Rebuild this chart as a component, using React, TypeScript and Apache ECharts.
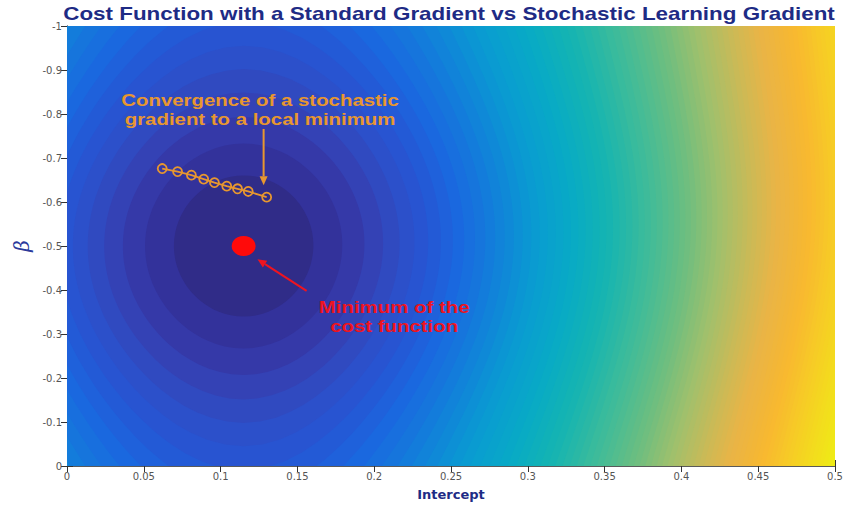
import React, { useEffect, useRef } from "react";
import * as echarts from "echarts";

const TITLE = "Cost Function with a Standard Gradient vs Stochastic Learning Gradient";
const X_NAME = "Intercept";
const Y_NAME = "β";

const X_MIN = 0;
const X_MAX = 0.5;
const X_STEP = 0.05;
const Y_MIN = -1;
const Y_MAX = 0;
const Y_STEP = 0.1;

// Location of the cost minimum (intercept, beta)
const MINIMUM = [0.115, -0.5];

// Stochastic gradient iterates
const SGD_X = [0.062, 0.072, 0.081, 0.089, 0.096, 0.104, 0.111, 0.118, 0.13];
const SGD_Y = [-0.676, -0.669, -0.661, -0.652, -0.644, -0.636, -0.63, -0.624, -0.611];

// Shape of the cost surface around the minimum
const COST_SCALE_X = 0.385; // intercept offset at which the quadratic term reaches 1
const COST_BETA_HALF = 0.5; // beta offset used in the skew term
const COST_BETA_CURV = 0.567; // curvature of the beta term at the minimum
const COST_BETA_DAMP = 1.97; // flattening of the beta term away from the minimum
const COST_SKEW = 0.06;

// Filled contour levels
const LEVEL_STEP = 0.0139;
const LEVEL_COUNT = 84;

// Colour ramp: cost value -> colour
const RAMP_COST = [0, 0.014, 0.028, 0.042, 0.056, 0.07, 0.09, 0.125, 0.175, 0.23, 0.3, 0.37, 0.45, 0.55, 0.64, 0.72, 0.8, 0.9, 1.0, 1.15];
const RAMP_COLOR = [
  "#302c88", "#33329b", "#3539a8", "#3442b5", "#304ac0", "#2c50ca", "#2656d4",
  "#1a68df", "#1280da", "#0a9ad2", "#08aac6", "#14b4b2", "#3abb9c", "#6cbe80",
  "#a0c06c", "#c8ba58", "#e9b446", "#f8b830", "#f6cf24", "#eeee14",
];

// Annotations
const NOTE_TEXT = ["Convergence of a stochastic\ngradient to a local minimum", "Minimum of the\ncost function"];
const NOTE_X = [0.1257, 0.213];
const NOTE_Y = [-0.81, -0.34];
const NOTE_COLOR = ["#e8972f", "#ee1420"];

const ARROW_TAIL_X = [0.128, 0.156];
const ARROW_TAIL_Y = [-0.766, -0.398];
const ARROW_HEAD_X = [0.128, 0.124];
const ARROW_HEAD_Y = [-0.638, -0.47];

const PATH_COLOR = "#e8972f";
const DOT_COLOR = "#ff0a0a";
const NAVY = "#1e2b85";

const RAY_COUNT = 180;
const RAY_REACH = 6;

function cost(x: number, y: number): number {
  const u = (x - MINIMUM[0]) / COST_SCALE_X;
  const dy = y - MINIMUM[1];
  const v = Math.max(-1, Math.min(1, dy / COST_BETA_HALF));
  const beta = (COST_BETA_CURV * dy * dy) / (1 + COST_BETA_DAMP * dy * dy);
  const skew = u > 0 ? COST_SKEW * u * u * v : 0;
  return u * u + beta + skew;
}

function hexToRgb(h: string): number[] {
  const n = parseInt(h.slice(1), 16);
  return [(n >> 16) & 255, (n >> 8) & 255, n & 255];
}

function rampColor(j: number): string {
  if (j <= RAMP_COST[0]) return RAMP_COLOR[0];
  for (let i = 1; i < RAMP_COST.length; i++) {
    if (j <= RAMP_COST[i]) {
      const t = (j - RAMP_COST[i - 1]) / (RAMP_COST[i] - RAMP_COST[i - 1]);
      const a = hexToRgb(RAMP_COLOR[i - 1]);
      const b = hexToRgb(RAMP_COLOR[i]);
      const c = a.map((av, k) => Math.round(av + (b[k] - av) * t));
      return `rgb(${c[0]},${c[1]},${c[2]})`;
    }
  }
  return RAMP_COLOR[RAMP_COLOR.length - 1];
}

// Iso-cost curve traced by bisection along rays from the minimum
const contourCache: Record<number, number[][]> = {};
function contour(level: number): number[][] {
  if (contourCache[level]) return contourCache[level];
  const pts: number[][] = [];
  for (let k = 0; k < RAY_COUNT; k++) {
    const th = (2 * Math.PI * k) / RAY_COUNT;
    const ux = Math.cos(th) * COST_SCALE_X;
    const uy = Math.sin(th) * COST_BETA_HALF;
    let lo = 0;
    let hi = RAY_REACH;
    if (cost(MINIMUM[0] + hi * ux, MINIMUM[1] + hi * uy) > level) {
      for (let it = 0; it < 40; it++) {
        const mid = (lo + hi) / 2;
        if (cost(MINIMUM[0] + mid * ux, MINIMUM[1] + mid * uy) > level) hi = mid;
        else lo = mid;
      }
    }
    pts.push([MINIMUM[0] + hi * ux, MINIMUM[1] + hi * uy]);
  }
  contourCache[level] = pts;
  return pts;
}

export default function App() {
  const ref = useRef<HTMLDivElement>(null);

  useEffect(() => {
    if (!ref.current) return;
    const chart = echarts.init(ref.current, undefined, { renderer: "svg" });

    // outermost band first so that inner bands paint over it
    const levels = Array.from({ length: LEVEL_COUNT }, (_, i) => LEVEL_COUNT - i);
    const contourData = levels.map((k) => [MINIMUM[0], MINIMUM[1], k]);
    const pathData = SGD_X.map((x, i) => [x, SGD_Y[i]]);
    const arrowData = ARROW_TAIL_X.map((x, i) => [x, ARROW_TAIL_Y[i], ARROW_HEAD_X[i], ARROW_HEAD_Y[i], i]);
    const noteData = NOTE_X.map((x, i) => [x, NOTE_Y[i], i]);

    const tickLabel = { color: "#555", fontSize: 10, fontFamily: "DejaVu Sans" };
    const axisLine = { show: true, lineStyle: { color: "#5a5a5a", width: 1 } };
    const axisTick = { show: true, inside: true, length: 6, lineStyle: { color: "#333", width: 1 } };

    chart.setOption({
      animation: false,
      backgroundColor: "#ffffff",
      grid: {
        left: 67,
        top: 26,
        right: 12,
        bottom: 34,
        show: true,
        borderWidth: 0,
        backgroundColor: rampColor(LEVEL_COUNT * LEVEL_STEP),
      },
      graphic: [
        {
          type: "text",
          x: 449,
          y: 14,
          scaleX: 1.245,
          style: {
            text: TITLE,
            font: 'bold 18px "Liberation Sans", Arial, sans-serif',
            fill: NAVY,
            align: "center",
            verticalAlign: "middle",
            textAlign: "center",
            textVerticalAlign: "middle",
          },
        },
      ],
      xAxis: [
        {
          type: "value",
          position: "bottom",
          min: X_MIN,
          max: X_MAX,
          interval: X_STEP,
          axisLine,
          axisTick,
          splitLine: { show: false },
          axisLabel: { ...tickLabel, margin: 5 },
          name: X_NAME,
          nameLocation: "middle",
          nameGap: 22,
          nameTextStyle: { color: NAVY, fontSize: 13, fontWeight: "bold", fontFamily: "DejaVu Sans" },
        },
        {
          type: "value",
          position: "top",
          min: X_MIN,
          max: X_MAX,
          interval: X_STEP,
          axisLine,
          axisTick,
          splitLine: { show: false },
          axisLabel: { show: false },
        },
      ],
      yAxis: [
        {
          type: "value",
          position: "left",
          inverse: true,
          min: Y_MIN,
          max: Y_MAX,
          interval: Y_STEP,
          axisLine,
          axisTick,
          splitLine: { show: false },
          axisLabel: { ...tickLabel, margin: 5 },
          name: Y_NAME,
          nameLocation: "middle",
          nameRotate: 90,
          nameGap: 33,
          nameTextStyle: { color: "#2b3a9c", fontSize: 20, fontStyle: "italic", fontFamily: "DejaVu Serif" },
        },
        {
          type: "value",
          position: "right",
          inverse: true,
          min: Y_MIN,
          max: Y_MAX,
          interval: Y_STEP,
          axisLine,
          axisTick,
          splitLine: { show: false },
          axisLabel: { show: false },
        },
      ],
      series: [
        {
          type: "custom",
          name: "cost",
          coordinateSystem: "cartesian2d",
          clip: true,
          silent: true,
          z: 1,
          data: contourData,
          renderItem: (params: any, api: any) => {
            const k = api.value(2) as number;
            const pts = contour(k * LEVEL_STEP).map((p) => api.coord(p));
            return {
              type: "polygon",
              shape: { points: pts },
              style: { fill: rampColor((k - 1) * LEVEL_STEP), stroke: null },
            };
          },
        },
        {
          type: "line",
          name: "stochastic gradient",
          z: 3,
          data: pathData,
          symbol: "circle",
          symbolSize: 9,
          showAllSymbol: true,
          lineStyle: { color: PATH_COLOR, width: 1.8 },
          itemStyle: { color: "rgba(0,0,0,0)", borderColor: PATH_COLOR, borderWidth: 1.8 },
        },
        {
          type: "scatter",
          name: "minimum",
          z: 4,
          data: [MINIMUM],
          symbol: "circle",
          symbolSize: [24, 20],
          itemStyle: { color: DOT_COLOR, opacity: 1 },
        },
        {
          type: "custom",
          name: "arrows",
          coordinateSystem: "cartesian2d",
          z: 5,
          silent: true,
          data: arrowData,
          renderItem: (params: any, api: any) => {
            const i = api.value(4) as number;
            const p1 = api.coord([api.value(0), api.value(1)]);
            const p2 = api.coord([api.value(2), api.value(3)]);
            const ang = Math.atan2(p2[1] - p1[1], p2[0] - p1[0]);
            const c = Math.cos(ang);
            const s = Math.sin(ang);
            const hl = 9;
            const hw = 4;
            const base = [p2[0] - hl * c, p2[1] - hl * s];
            const color = NOTE_COLOR[i];
            return {
              type: "group",
              children: [
                {
                  type: "line",
                  shape: { x1: p1[0], y1: p1[1], x2: base[0], y2: base[1] },
                  style: { stroke: color, lineWidth: 2 },
                },
                {
                  type: "polygon",
                  shape: {
                    points: [
                      p2,
                      [base[0] + hw * s, base[1] - hw * c],
                      [base[0] - hw * s, base[1] + hw * c],
                    ],
                  },
                  style: { fill: color },
                },
              ],
            };
          },
        },
        {
          type: "custom",
          name: "notes",
          coordinateSystem: "cartesian2d",
          z: 6,
          silent: true,
          data: noteData,
          renderItem: (params: any, api: any) => {
            const i = api.value(2) as number;
            const p = api.coord([api.value(0), api.value(1)]);
            return {
              type: "text",
              x: p[0],
              y: p[1],
              scaleX: 1.2,
              style: {
                text: NOTE_TEXT[i],
                font: 'bold 17px "Liberation Sans", Arial, sans-serif',
                fill: NOTE_COLOR[i],
                align: "center",
                verticalAlign: "middle",
                lineHeight: 19,
              },
            };
          },
        },
      ],
    });

    return () => chart.dispose();
  }, []);

  return (
    <div
      ref={ref}
      style={{ position: "fixed", left: 0, top: 0, width: 847, height: 506, background: "#fff" }}
    />
  );
}
